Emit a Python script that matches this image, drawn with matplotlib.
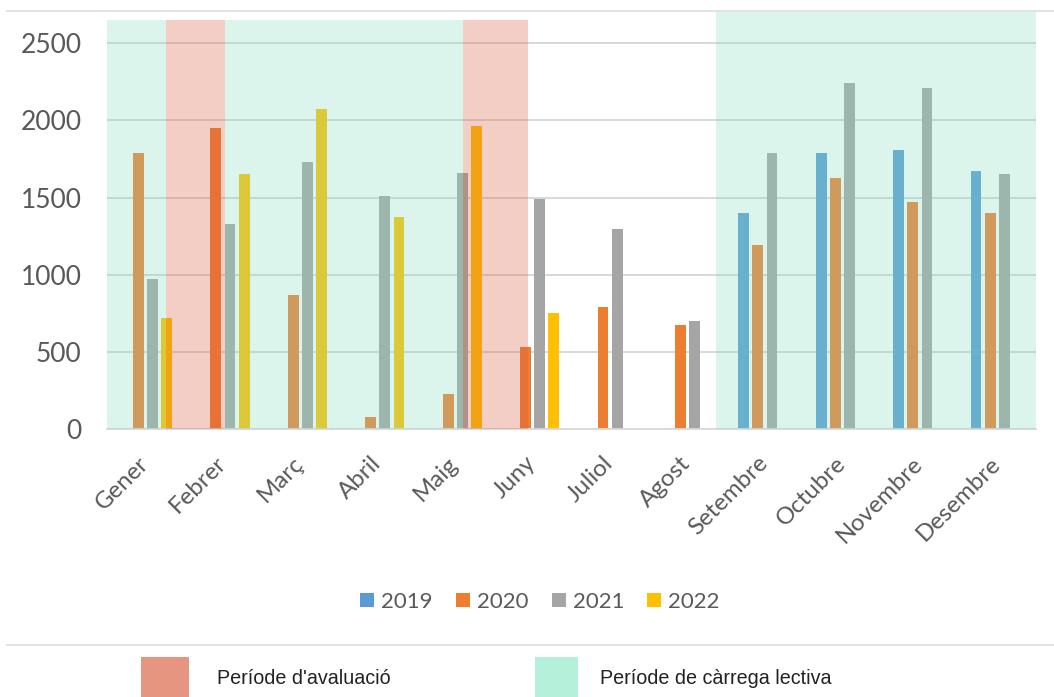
import numpy as np
import matplotlib
matplotlib.use("Agg")
import matplotlib.pyplot as plt
from matplotlib.patches import Rectangle
from matplotlib.lines import Line2D
from matplotlib.transforms import ScaledTranslation

months = ["Gener", "Febrer", "Març", "Abril", "Maig", "Juny", "Juliol",
          "Agost", "Setembre", "Octubre", "Novembre", "Desembre"]
years = ["2019", "2020", "2021", "2022"]
nan = np.nan
v2019 = [nan, nan, nan, nan, nan, nan, nan, nan, 1402, 1787, 1808, 1674]
v2020 = [1791, 1953, 869, 80, 227, 530, 789, 672, 1191, 1627, 1473, 1398]
v2021 = [970, 1331, 1729, 1512, 1657, 1489, 1296, 702, 1791, 2245, 2210, 1651]
v2022 = [717, 1655, 2076, 1376, 1966, 754, nan, nan, nan, nan, nan, nan]
series = [v2019, v2020, v2021, v2022]
colors = ["#5B9BD5", "#ED7D31", "#A5A5A5", "#FFC000"]

# shaded periods (start, end, top) in category units
eval_periods = [(0.262, 1.028, 2651), (4.097, 4.944, 2651)]
lectiva_periods = [(-0.5, 0.262, 2651), (1.028, 4.097, 2651), (7.364, 11.5, 2709)]
yticks = [0, 500, 1000, 1500, 2000, 2500]

W, H = 1054, 697
fig = plt.figure(figsize=(W / 100, H / 100), dpi=100)
ax = fig.add_axes([106.7 / W, 1 - 429 / H, (1036 - 106.7) / W, (429 - 11) / H])

x = np.arange(len(months))
pitch = 0.183
width = 0.14
for i, (vals, c) in enumerate(zip(series, colors)):
    ax.bar(x + (i - 1.5) * pitch, vals, width=width, color=c, zorder=2,
           label=years[i])

for x0, x1, top in lectiva_periods:
    ax.add_patch(Rectangle((x0, 0), x1 - x0, top, facecolor="#8ADEC1",
                           alpha=0.3, edgecolor="none", zorder=3))
for x0, x1, top in eval_periods:
    ax.add_patch(Rectangle((x0, 0), x1 - x0, top, facecolor="#D75F41",
                           alpha=0.3, edgecolor="none", zorder=3))

ax.set_xlim(-0.5, 11.5)
ax.set_ylim(0, 2709)
ax.set_yticks(yticks)
ax.yaxis.grid(True, color="#D5D5D5", lw=1.3, zorder=1)
ax.set_axisbelow(True)
for s in ["top", "right", "left"]:
    ax.spines[s].set_visible(False)
ax.spines["bottom"].set_color("#D9D9D9")
ax.spines["bottom"].set_linewidth(1.3)
ax.tick_params(axis="both", length=0)
ax.tick_params(axis="y", pad=18, labelsize=19, labelcolor="#595959")
ax.set_yticklabels([str(t) for t in yticks], family="Lato")
ax.set_xticks(x)
ax.set_xticklabels(months, rotation=45, ha="right", family="Lato",
                   fontsize=17.3, color="#595959")
ax.tick_params(axis="x", pad=17)
off = ScaledTranslation(7 / 100, 0, fig.dpi_scale_trans)
for lab in ax.get_xticklabels():
    lab.set_transform(lab.get_transform() + off)

# year legend
handles = [Rectangle((0, 0), 1, 1, facecolor=c) for c in colors]
leg = fig.legend(handles, years, loc="center", bbox_to_anchor=(540 / W, 1 - 602 / H),
                 ncol=4, frameon=False, handlelength=0.63, handleheight=0.63,
                 handletextpad=0.32, columnspacing=1.04,
                 prop={"family": "Lato", "size": 16})
for t in leg.get_texts():
    t.set_color("#595959")

# lines
fig.add_artist(Line2D([7 / W, 1], [1 - 11 / H, 1 - 11 / H], color="#E3E3E3", lw=1.5))
fig.add_artist(Line2D([7 / W, 1], [1 - 645 / H, 1 - 645 / H], color="#E3E3E3", lw=1.5))

# period legend
fig.add_artist(Rectangle((141 / W, 0), 48 / W, 40 / H, facecolor="#E59580",
                         edgecolor="none", transform=fig.transFigure))
fig.text(217 / W, 1 - 678 / H, "Període d'avaluació", family="Liberation Sans",
         fontsize=14.2, color="#222222", va="center", ha="left")
fig.add_artist(Rectangle((535 / W, 0), 43 / W, 40 / H, facecolor="#B5F0DA",
                         edgecolor="none", transform=fig.transFigure))
fig.text(600 / W, 1 - 678 / H, "Període de càrrega lectiva", family="Liberation Sans",
         fontsize=14.2, color="#222222", va="center", ha="left")

fig.savefig("out.png", dpi=100)
